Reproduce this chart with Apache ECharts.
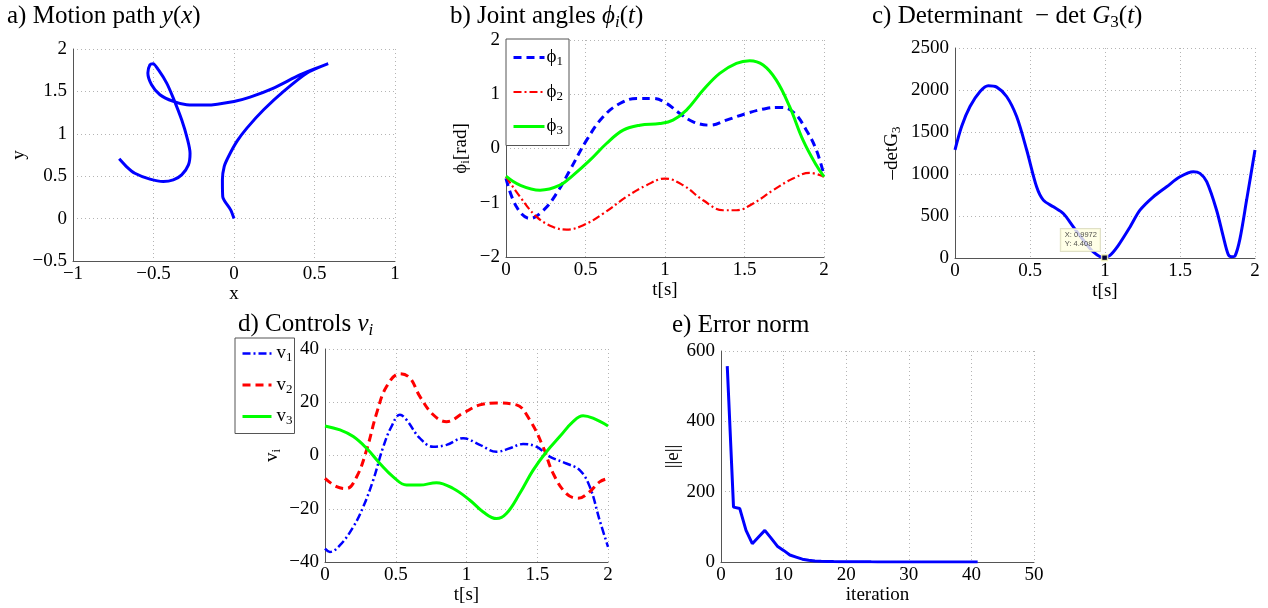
<!DOCTYPE html>
<html><head><meta charset="utf-8">
<script src="https://cdn.jsdelivr.net/npm/echarts@6/dist/echarts.min.js"></script>
<style>html,body{margin:0;padding:0;background:#fff}#c{width:1268px;height:608px}</style>
</head><body><div id="c"></div>
<script>
// a) Motion path
const pathX = [0, -0.02, -0.07, -0.072, -0.061, -0.034, 0.018, 0.08, 0.184, 0.308, 0.454, 0.585, 0.412, 0.246, 0.1, 0, -0.169, -0.294, -0.377, -0.46, -0.512, -0.535, -0.522, -0.502, -0.47, -0.418, -0.377, -0.325, -0.288, -0.273, -0.283, -0.325, -0.377, -0.439, -0.522, -0.616, -0.668, -0.713];
const pathY = [0, 0.1, 0.26, 0.457, 0.614, 0.732, 0.91, 1.067, 1.283, 1.5, 1.717, 1.827, 1.697, 1.539, 1.433, 1.382, 1.339, 1.343, 1.382, 1.461, 1.579, 1.717, 1.815, 1.827, 1.756, 1.598, 1.421, 1.165, 0.929, 0.772, 0.634, 0.516, 0.457, 0.437, 0.465, 0.535, 0.614, 0.705];
// b) Joint angles
const phi1T = [0, 0.067, 0.151, 0.235, 0.318, 0.402, 0.507, 0.611, 0.716, 0.821, 0.926, 1.01, 1.093, 1.177, 1.282, 1.386, 1.512, 1.637, 1.721, 1.805, 1.889, 1.952, 2];
const phi1  = [-0.55, -1.08, -1.29, -1.14, -0.83, -0.40, 0.154, 0.585, 0.83, 0.923, 0.923, 0.83, 0.646, 0.492, 0.43, 0.523, 0.646, 0.738, 0.757, 0.677, 0.338, -0.03, -0.49];
const phi2T = [0, 0.088, 0.193, 0.297, 0.381, 0.486, 0.611, 0.758, 0.884, 1.0, 1.114, 1.24, 1.365, 1.449, 1.554, 1.68, 1.805, 1.91, 2];
const phi2  = [-0.52, -0.89, -1.26, -1.446, -1.495, -1.415, -1.20, -0.89, -0.677, -0.554, -0.677, -0.954, -1.138, -1.138, -1.015, -0.769, -0.554, -0.45, -0.52];
const phi3T = [0, 0.088, 0.214, 0.339, 0.423, 0.528, 0.632, 0.737, 0.842, 0.967, 1.05, 1.135, 1.24, 1.344, 1.449, 1.533, 1.617, 1.7, 1.784, 1.868, 1.952, 2];
const phi3  = [-0.51, -0.677, -0.77, -0.677, -0.49, -0.215, 0.092, 0.338, 0.43, 0.461, 0.523, 0.708, 1.077, 1.385, 1.569, 1.618, 1.538, 1.26, 0.77, 0.154, -0.31, -0.52];
// c) Determinant
const detT = [0, 0.044, 0.1, 0.167, 0.222, 0.278, 0.344, 0.411, 0.478, 0.544, 0.589, 0.656, 0.722, 0.789, 0.856, 0.922, 0.989, 1.033, 1.089, 1.167, 1.233, 1.322, 1.411, 1.5, 1.589, 1.633, 1.678, 1.744, 1.789, 1.822, 1.845, 1.867, 1.9, 1.944, 2];
const detG = [1286, 1565, 1803, 1982, 2050, 2034, 1923, 1684, 1286, 848, 689, 609, 529, 370, 211, 72, 4, 32, 151, 370, 569, 728, 848, 967, 1027, 1007, 908, 569, 251, 40, 15, 25, 231, 689, 1286];
const datatip = [0.9972, 4.408];
// d) Controls
const v1T = [0, 0.035, 0.106, 0.2, 0.27, 0.341, 0.412, 0.47, 0.53, 0.576, 0.67, 0.765, 0.859, 0.976, 1.094, 1.212, 1.306, 1.4, 1.494, 1.588, 1.706, 1.8, 1.871, 1.941, 2];
const v1  = [-35, -36.2, -33.7, -26.8, -19.3, -9.2, 3.3, 10.9, 15.3, 13.4, 6.5, 3.3, 4.0, 6.5, 4.0, 1.4, 2.7, 4.3, 3.3, -0.4, -3.0, -5.5, -11.7, -24.3, -34.3];
const v2T = [0, 0.082, 0.153, 0.224, 0.294, 0.365, 0.435, 0.53, 0.6, 0.67, 0.765, 0.859, 0.976, 1.094, 1.212, 1.353, 1.447, 1.541, 1.612, 1.706, 1.788, 1.871, 1.941, 2];
const v2  = [-8.6, -11.7, -12.4, -8.0, 2.1, 15.9, 25.9, 30.7, 29.1, 22.2, 15.3, 12.7, 15.9, 19.0, 19.7, 19.0, 13.4, 3.3, -6.7, -14.3, -16.1, -13.6, -9.9, -8.6];
const v3T = [0, 0.106, 0.2, 0.294, 0.388, 0.482, 0.576, 0.67, 0.788, 0.906, 1.024, 1.118, 1.212, 1.282, 1.376, 1.471, 1.565, 1.659, 1.753, 1.824, 1.894, 2];
const v3  = [11.1, 9.6, 7.1, 2.7, -3.0, -8.0, -11.1, -11.1, -10.2, -12.4, -16.8, -21.2, -23.7, -21.8, -14.3, -5.5, 1.4, 7.1, 12.7, 14.9, 14.0, 11.1];
// e) Error norm
const iterN = [1,2,3,4,5,6,7,8,9,10,11,12,13,14,15,16,17,18,19,20,21,22,23,24,25,26,27,28,29,30,31,32,33,34,35,36,37,38,39,40,41];
const errNorm = [557, 156, 152, 90, 52, 71, 90, 68, 45, 33, 20, 14, 8, 5, 3, 2, 1.5, 1.2, 1, 0.8, 0.7, 0.6, 0.5, 0.4, 0.35, 0.3, 0.25, 0.2, 0.18, 0.15, 0.13, 0.11, 0.1, 0.09, 0.08, 0.07, 0.06, 0.05, 0.04, 0.03, 0.02];

const SERIF = '"Liberation Serif","Times New Roman","DejaVu Serif",serif';
const BLUE = '#0000ff', RED = '#ff0000', GREEN = '#00ff00';
function pairs(xs, ys) { return xs.map((x, i) => [x, ys[i]]); }
const fmtMinus = v => String(v).replace('-', '\u2212');

const nameRich = {
  n: {fontFamily: SERIF, fontSize: 19, lineHeight: 22, color: '#000', fontWeight: 'normal'},
  s: {fontFamily: SERIF, fontSize: 13, lineHeight: 10, verticalAlign: 'bottom', color: '#000', fontWeight: 'normal'}
};
const titleRich = {
  n: {fontFamily: SERIF, fontSize: 25, lineHeight: 30, color: '#000', fontWeight: 'normal'},
  i: {fontFamily: SERIF, fontSize: 25, lineHeight: 30, fontStyle: 'italic', color: '#000', fontWeight: 'normal'},
  s: {fontFamily: SERIF, fontSize: 17, lineHeight: 14, verticalAlign: 'bottom', color: '#000', fontWeight: 'normal'},
  si: {fontFamily: SERIF, fontSize: 17, lineHeight: 14, verticalAlign: 'bottom', fontStyle: 'italic', color: '#000', fontWeight: 'normal'}
};

function axisCommon() {
  return {
    axisLine: {show: true, onZero: false, lineStyle: {color: '#555', width: 1}},
    axisTick: {show: false},
    axisLabel: {fontFamily: SERIF, fontSize: 19, color: '#000', formatter: fmtMinus, showMinLabel: true, showMaxLabel: true},
    splitLine: {show: true, lineStyle: {color: '#b4b4b4', type: [1, 3], width: 1}},
    nameLocation: 'middle',
    nameTextStyle: {fontFamily: SERIF, fontSize: 19, color: '#000', rich: nameRich}
  };
}
function xAx(g, min, max, interval, name, gap) {
  const a = axisCommon();
  a.axisLabel.margin = 4;
  return Object.assign(a, {type: 'value', gridIndex: g, min, max, interval, name, nameGap: gap});
}
function yAx(g, min, max, interval, name, gap) {
  const a = axisCommon();
  a.axisLabel.margin = 6;
  return Object.assign(a, {type: 'value', gridIndex: g, min, max, interval, name, nameGap: gap, nameRotate: 90});
}
function line(name, data, xi, color, width, type, smooth) {
  return {type: 'line', name, data, xAxisIndex: xi, yAxisIndex: xi, symbol: 'none', smooth: smooth,
    lineStyle: {color, width, type}, itemStyle: {color}, z: 3};
}

const legendFmt = name => '{n|' + name[0] + '}{s|' + name.slice(1) + '}';
const legendRich = {
  n: {fontFamily: SERIF, fontSize: 19, lineHeight: 22, color: '#000', fontWeight: 'normal'},
  s: {fontFamily: SERIF, fontSize: 13, lineHeight: 10, verticalAlign: 'bottom', color: '#000', fontWeight: 'normal'}
};
const legendItemStyle = {opacity: 0, color: 'rgba(0,0,0,0)', borderWidth: 0};

const option = {
  backgroundColor: '#fff',
  animation: false,
  title: [
    {left: 7, top: 1, padding: 0, text: '{n|a) Motion path }{i|y}{n|(}{i|x}{n|)}', textStyle: {rich: titleRich, fontWeight: 'normal'}},
    {left: 450, top: 1, padding: 0, text: '{n|b) Joint angles }{i|ϕ}{si|i}{n|(}{i|t}{n|)}', textStyle: {rich: titleRich, fontWeight: 'normal'}},
    {left: 872, top: 1, padding: 0, text: '{n|c) Determinant  \u2212 det }{i|G}{s|3}{n|(}{i|t}{n|)}', textStyle: {rich: titleRich, fontWeight: 'normal'}},
    {left: 238, top: 309, padding: 0, text: '{n|d) Controls }{i|v}{si|i}', textStyle: {rich: titleRich, fontWeight: 'normal'}},
    {left: 672, top: 310, padding: 0, text: '{n|e) Error norm}', textStyle: {rich: titleRich, fontWeight: 'normal'}}
  ],
  legend: [
    {data: ['ϕ1', 'ϕ2', 'ϕ3'], left: 506, top: 39, orient: 'vertical', selectedMode: false,
     itemWidth: 31, itemHeight: 14, itemGap: 14, padding: [9, 6, 8, 6],
     borderColor: '#555', borderWidth: 1, backgroundColor: '#fff', borderRadius: 0,
     formatter: legendFmt, textStyle: {rich: legendRich, padding: [0, 0, 0, -3]},
     itemStyle: legendItemStyle,
     lineStyle: {width: 'inherit', type: 'inherit'}},
    {data: ['v1', 'v2', 'v3'], left: 235, top: 338, orient: 'vertical', selectedMode: false,
     itemWidth: 29, itemHeight: 14, itemGap: 11, padding: [6, 2, 6, 6],
     borderColor: '#555', borderWidth: 1, backgroundColor: '#fff', borderRadius: 0,
     formatter: legendFmt, textStyle: {rich: legendRich},
     itemStyle: legendItemStyle,
     lineStyle: {width: 'inherit', type: 'inherit'}}
  ],
  grid: [
    {left: 73, top: 49, width: 322, height: 212, containLabel: false, outerBoundsMode: 'none'},
    {left: 506, top: 40, width: 318, height: 217, containLabel: false, outerBoundsMode: 'none'},
    {left: 955, top: 48, width: 300, height: 210, containLabel: false, outerBoundsMode: 'none'},
    {left: 325, top: 349, width: 283, height: 213, containLabel: false, outerBoundsMode: 'none'},
    {left: 721, top: 351, width: 313, height: 211, containLabel: false, outerBoundsMode: 'none'}
  ],
  xAxis: [
    xAx(0, -1, 1, 0.5, 'x', 20),
    xAx(1, 0, 2, 0.5, 't[s]', 20),
    xAx(2, 0, 2, 0.5, 't[s]', 20),
    xAx(3, 0, 2, 0.5, 't[s]', 20),
    xAx(4, 0, 50, 10, 'iteration', 20)
  ],
  yAxis: [
    yAx(0, -0.5, 2, 0.5, 'y', 32),
    yAx(1, -2, 2, 1, '{n|ϕ}{s|i}{n|[rad]}', 34),
    yAx(2, 0, 2500, 500, '{n|–detG}{s|3}', 52),
    yAx(3, -40, 40, 20, '{n|v}{s|i}', 42),
    yAx(4, 0, 600, 200, '||e||', 38)
  ],
  series: [
    line('path', pairs(pathX, pathY), 0, BLUE, 3, 'solid', 0.25),
    line('ϕ1', pairs(phi1T, phi1), 1, BLUE, 3, [8, 5], 0.4),
    line('ϕ2', pairs(phi2T, phi2), 1, RED, 2.2, [8, 3, 2, 3], 0.4),
    line('ϕ3', pairs(phi3T, phi3), 1, GREEN, 3, 'solid', 0.4),
    line('det', pairs(detT, detG), 2, BLUE, 3, 'solid', 0.3),
    {type: 'scatter', data: [datatip], xAxisIndex: 2, yAxisIndex: 2, symbol: 'rect', symbolSize: 6, z: 10,
     itemStyle: {color: '#000', borderColor: '#ffffc8', borderWidth: 1.5},
     label: {show: true, position: [-40, -25], align: 'left', verticalAlign: 'top',
       formatter: 'X: ' + datatip[0] + '\nY: ' + datatip[1],
       fontFamily: '"Liberation Sans",Arial,sans-serif', fontSize: 7.5, lineHeight: 9, color: '#222',
       backgroundColor: '#ffffe1', borderColor: '#d8d8b8', borderWidth: 1, padding: [2, 3, 2, 4]}},
    line('v1', pairs(v1T, v1), 3, BLUE, 2.5, [8, 3, 2, 3], 0.4),
    line('v2', pairs(v2T, v2), 3, RED, 3, [8, 5], 0.4),
    line('v3', pairs(v3T, v3), 3, GREEN, 3, 'solid', 0.4),
    line('err', pairs(iterN, errNorm), 4, BLUE, 3, 'solid', false)
  ]
};
const chart = echarts.init(document.getElementById('c'));
chart.setOption(option);
</script></body></html>
